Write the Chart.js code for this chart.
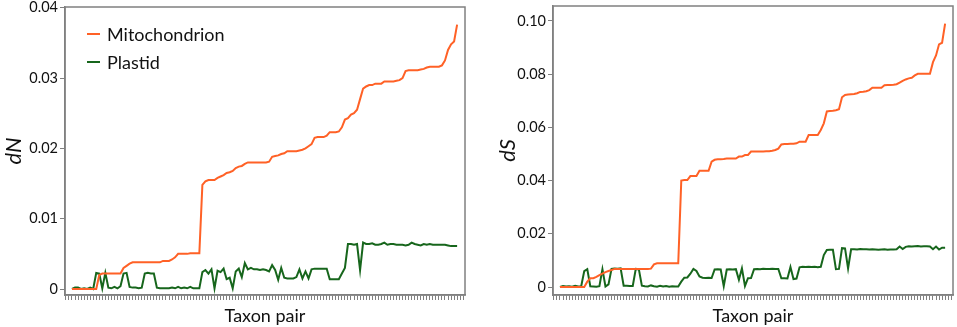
<!DOCTYPE html>
<html>
<head>
<meta charset="utf-8">
<script src="https://cdn.jsdelivr.net/npm/chart.js@4/dist/chart.umd.min.js"></script>
<style>
  html, body { margin: 0; padding: 0; background: #fff; }
  #wrap { position: relative; width: 957px; height: 327px; overflow: hidden; font-family: Lato, "Open Sans", sans-serif; }
  .cv { position: absolute; top: 0; }
  .leg { position: absolute; left: 87px; font-size: 18px; color: #111; line-height: 22px; height: 22px; }
  .leg .sw { position: absolute; left: 0; top: 10px; width: 13px; height: 2px; }
  .leg .tx { position: absolute; left: 20px; top: 0; white-space: nowrap; }
</style>
</head>
<body>
<div id="wrap">
  <div class="cv" style="left:0;width:480px;height:327px;"><canvas id="cN" width="480" height="327"></canvas></div>
  <div class="cv" style="left:480px;width:477px;height:327px;"><canvas id="cS" width="477" height="327"></canvas></div>
  <div class="leg" style="top:23px;"><div class="sw" style="background:#FF6126"></div><div class="tx">Mitochondrion</div></div>
  <div class="leg" style="top:51px;"><div class="sw" style="background:#17661C"></div><div class="tx">Plastid</div></div>
</div>
<script>
// ---- data ----
const taxonPairs = Array.from({length: 128}, (_, i) => i + 1);
const seriesNames = ["Mitochondrion", "Plastid"];
const seriesColors = ["#FF6126", "#17661C"];

const mitoDN = [
  0,0,0,0,0,0,0,0,0,0.0020,
  0.0022,0.0022,0.0022,0.0022,0.0022,0.0022,0.0022,0.0030,0.0033,0.0036,
  0.0038,0.0038,0.0038,0.0038,0.0038,0.0038,0.0038,0.0038,0.0038,0.0038,
  0.0040,0.0040,0.0040,0.0042,0.0045,0.0050,0.0050,0.0050,0.0050,0.0051,
  0.0051,0.0051,0.0051,0.0148,0.0153,0.0155,0.0155,0.0155,0.0158,0.0160,
  0.0162,0.0165,0.0166,0.0168,0.0172,0.0174,0.0175,0.0178,0.0180,0.0180,
  0.0180,0.0180,0.0180,0.0180,0.0180,0.0181,0.0188,0.0189,0.0190,0.0192,
  0.0193,0.0196,0.0196,0.0196,0.0196,0.0197,0.0198,0.0200,0.0203,0.0206,
  0.0215,0.0216,0.0216,0.0216,0.0218,0.0223,0.0223,0.0223,0.0224,0.0230,
  0.0241,0.0243,0.0248,0.0250,0.0255,0.0270,0.0285,0.0288,0.0290,0.0290,
  0.0292,0.0292,0.0292,0.0295,0.0295,0.0295,0.0295,0.0296,0.0297,0.0300,
  0.0310,0.0311,0.0311,0.0311,0.0311,0.0312,0.0313,0.0315,0.0316,0.0316,
  0.0316,0.0316,0.0318,0.0325,0.0340,0.0348,0.0352,0.0376
];
const plastidDN = [
  0.0000,0.0002,0.0002,0.0000,0.0001,0.0000,0.0002,0.0000,0.0023,0.0022,
  0.0001,0.0023,0.0002,0.0001,0.0003,0.0001,0.0004,0.0022,0.0023,0.0003,
  0.0002,0.0002,0.0001,0.0002,0.0022,0.0023,0.0022,0.0022,0.0002,0.0001,
  0.0001,0.0001,0.0001,0.0002,0.0001,0.0003,0.0001,0.0002,0.0001,0.0003,
  0.0001,0.0001,0.0001,0.0024,0.0027,0.0022,0.0028,0.0001,0.0026,0.0024,
  0.0029,0.0014,0.0016,0.0001,0.0025,0.0029,0.0017,0.0037,0.0028,0.0030,
  0.0028,0.0028,0.0027,0.0028,0.0027,0.0025,0.0034,0.0027,0.0013,0.0030,
  0.0016,0.0015,0.0015,0.0015,0.0017,0.0028,0.0015,0.0025,0.0015,0.0028,
  0.0029,0.0029,0.0029,0.0029,0.0029,0.0014,0.0014,0.0014,0.0014,0.0022,
  0.0030,0.0064,0.0064,0.0063,0.0064,0.0027,0.0066,0.0064,0.0064,0.0065,
  0.0063,0.0063,0.0064,0.0066,0.0063,0.0064,0.0064,0.0063,0.0063,0.0063,
  0.0062,0.0063,0.0066,0.0064,0.0063,0.0062,0.0064,0.0063,0.0064,0.0063,
  0.0063,0.0063,0.0063,0.0063,0.0062,0.0061,0.0061,0.0061
];
const mitoDS = [
  0,0,0,0,0,0,0,0,0,0.0020,
  0.0033,0.0033,0.0038,0.0045,0.0050,0.0056,0.0060,0.0064,0.0068,0.0068,
  0.0068,0.0068,0.0068,0.0068,0.0068,0.0068,0.0068,0.0068,0.0068,0.0068,
  0.0069,0.0085,0.0089,0.0089,0.0089,0.0089,0.0089,0.0089,0.0089,0.0089,
  0.0400,0.0402,0.0402,0.0417,0.0417,0.0417,0.0437,0.0437,0.0437,0.0437,
  0.0471,0.0478,0.0480,0.0480,0.0481,0.0483,0.0483,0.0483,0.0483,0.0490,
  0.0490,0.0496,0.0496,0.0509,0.0509,0.0509,0.0509,0.0509,0.0510,0.0510,
  0.0512,0.0515,0.0520,0.0536,0.0537,0.0537,0.0538,0.0538,0.0540,0.0546,
  0.0546,0.0546,0.0571,0.0571,0.0571,0.0571,0.0590,0.0615,0.0660,0.0661,
  0.0662,0.0664,0.0668,0.0713,0.0722,0.0723,0.0724,0.0725,0.0728,0.0733,
  0.0734,0.0736,0.0740,0.0749,0.0749,0.0749,0.0749,0.0758,0.0759,0.0759,
  0.0760,0.0762,0.0768,0.0775,0.0780,0.0784,0.0786,0.0795,0.0801,0.0801,
  0.0801,0.0801,0.0801,0.0845,0.0870,0.0912,0.0918,0.0990
];
const plastidDS = [
  0.0000,0.0004,0.0002,0.0003,0.0001,0.0005,0.0002,0.0003,0.0060,0.0067,
  0.0003,0.0002,0.0001,0.0003,0.0067,0.0002,0.0010,0.0068,0.0070,0.0069,
  0.0070,0.0005,0.0005,0.0004,0.0004,0.0068,0.0067,0.0005,0.0003,0.0002,
  0.0006,0.0003,0.0001,0.0005,0.0002,0.0004,0.0001,0.0003,0.0002,0.0002,
  0.0020,0.0035,0.0036,0.0050,0.0068,0.0060,0.0040,0.0035,0.0034,0.0035,
  0.0034,0.0066,0.0067,0.0066,0.0003,0.0066,0.0067,0.0066,0.0067,0.0027,
  0.0070,0.0004,0.0033,0.0034,0.0067,0.0068,0.0067,0.0069,0.0068,0.0068,
  0.0069,0.0068,0.0068,0.0033,0.0033,0.0032,0.0075,0.0030,0.0032,0.0074,
  0.0076,0.0075,0.0076,0.0075,0.0076,0.0074,0.0076,0.0120,0.0139,0.0140,
  0.0140,0.0067,0.0068,0.0146,0.0145,0.0070,0.0142,0.0142,0.0141,0.0143,
  0.0142,0.0142,0.0141,0.0142,0.0141,0.0140,0.0141,0.0142,0.0140,0.0141,
  0.0141,0.0142,0.0152,0.0143,0.0151,0.0153,0.0152,0.0153,0.0154,0.0152,
  0.0153,0.0153,0.0152,0.0142,0.0152,0.0141,0.0148,0.0148
];
const ticksDN = [0, 0.01, 0.02, 0.03, 0.04];
const ticksDS = [0, 0.02, 0.04, 0.06, 0.08, 0.10];

// ---- drawing ----
const AXIS = "#808080";
const FONT = "Lato, 'Open Sans', sans-serif";

const frame = {
  id: 'frame',
  afterDatasetsDraw(chart) {
    const a = chart.chartArea, c = chart.ctx;
    c.save();
    c.strokeStyle = AXIS;
    c.lineWidth = 1.5;
    c.strokeRect(a.left, a.top, a.right - a.left, a.bottom - a.top);
    c.restore();
  }
};

function makeChart(id, mito, plast, yTitle, yMin, yMax, tickList, decimals, cfg) {
  const toXY = arr => arr.map((v, i) => ({x: taxonPairs[i], y: v}));
  return new Chart(document.getElementById(id), {
    type: 'line',
    data: {
      datasets: [
        {label: seriesNames[0], data: toXY(mito), borderColor: seriesColors[0], borderWidth: 2, pointRadius: 0, tension: 0, fill: false},
        {label: seriesNames[1], data: toXY(plast), borderColor: seriesColors[1], borderWidth: 2, pointRadius: 0, tension: 0, fill: false}
      ]
    },
    options: {
      responsive: false,
      animation: false,
      events: [],
      layout: {padding: {top: cfg.top, right: cfg.right, left: 0, bottom: 0}},
      plugins: {legend: {display: false}, tooltip: {enabled: false}},
      scales: {
        x: {
          type: 'linear',
          min: taxonPairs[0] - 2.3,
          max: taxonPairs[taxonPairs.length - 1] + 2.6,
          ticks: {display: false, stepSize: 1, includeBounds: false},
          grid: {drawOnChartArea: false, drawTicks: true, tickLength: 5, color: AXIS, lineWidth: 1},
          border: {display: true, color: AXIS, width: 1.5},
          title: {display: true, text: 'Taxon pair', color: '#111', font: {family: FONT, size: 18}, padding: {top: 0, bottom: 0}},
          afterFit(s) { s.height = 32; s.paddingLeft = 0; s.paddingRight = 0; }
        },
        y: {
          min: yMin, max: yMax,
          afterBuildTicks(s) { s.ticks = tickList.map(v => ({value: v})); },
          ticks: {
            color: '#111', padding: 2,
            font: {family: FONT, size: 14.5},
            callback: v => (v === 0 ? '0' : Number(v).toFixed(decimals))
          },
          grid: {drawOnChartArea: false, drawTicks: true, tickLength: 5, color: AXIS, lineWidth: 1},
          border: {display: true, color: AXIS, width: 1.5},
          title: {display: true, text: yTitle, color: '#111', font: {family: FONT, size: 22, style: 'italic'}, padding: {top: cfg.titlePad, bottom: 0}},
          afterFit(s) { s.width = cfg.yw; s.paddingTop = 0; s.paddingBottom = 0; }
        }
      }
    },
    plugins: [frame]
  });
}

makeChart('cN', mitoDN, plastidDN, 'dN', -0.00085, 0.0401, ticksDN, 2, {top: 7, right: 15, yw: 65, titlePad: 1});
makeChart('cS', mitoDS, plastidDS, 'dS', -0.003, 0.1056, ticksDS, 2, {top: 6, right: 4, yw: 73, titlePad: 15});
</script>
</body>
</html>
